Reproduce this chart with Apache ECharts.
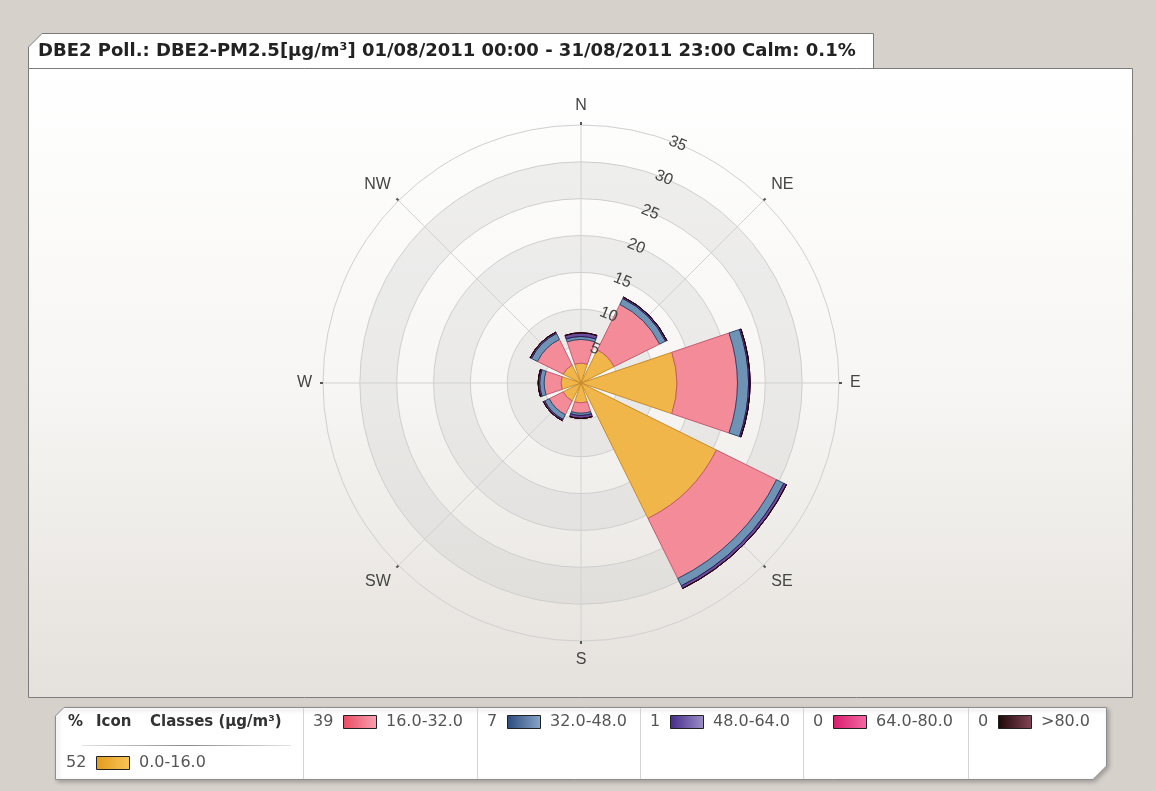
<!DOCTYPE html>
<html><head><meta charset="utf-8">
<script src="https://cdn.jsdelivr.net/npm/echarts@6/dist/echarts.min.js"></script>
<style>html,body{margin:0;padding:0;background:#d6d1cb;}#c{width:1156px;height:791px;}</style>
</head><body><div id="c"></div>
<script>
const categories = ['N','NE','E','SE','S','SW','W','NW'];
const class0 = [2.7, 5.0, 13.0, 20.5, 2.7, 2.7, 2.7, 2.7];
const class1 = [3.2, 6.9, 8.2, 9.1, 1.4, 2.1, 2.3, 3.9];
const class2 = [0.4, 0.9, 1.5, 1.1, 0.3, 0.7, 0.6, 0.9];
const class3 = [0.5, 0.2, 0.2, 0.4, 0.4, 0.2, 0.2, 0.2];
const class4 = [0, 0, 0, 0, 0, 0, 0, 0];
const class5 = [0, 0, 0, 0, 0, 0, 0, 0];
const classNames = ['0.0-16.0','16.0-32.0','32.0-48.0','48.0-64.0','64.0-80.0','>80.0'];
const classPct = [52, 39, 7, 1, 0, 0];
const radiusMax = 35, radiusStep = 5;
const titleText = 'DBE2 Poll.: DBE2-PM2.5[µg/m³] 01/08/2011 00:00 - 31/08/2011 23:00 Calm: 0.1%';
const headerTexts = ['%', 'Icon', 'Classes (µg/m³)'];

const classData = [class0, class1, class2, class3, class4, class5];
const fills = ['#f1b64a','#f48b99','#6f93b4','#6a4c9c','#e8408c','#3c1c24'];
const borders = ['#c98c2c','#c45c6e','#2c4a70','#2c1a52','#a01050','#1a0808'];
const iconGrad = [['#e39c1c','#f8c45a'],['#e84a62','#f7a2b0'],['#2a4a7e','#8aa6c8'],['#452a8c','#9c90c8'],['#d81c6c','#f36aa4'],['#1c0606','#864656']];

const CX = 581, CY = 383, R = 258;
const FONT = 'Liberation Sans';
const LFONT = 'DejaVu Sans';

const chart = echarts.init(document.getElementById('c'), null, {renderer:'canvas'});

const graphics = [];
// title tab
graphics.push({type:'polygon', z:-100, shape:{points:[[28.5,69],[28.5,47],[42,33.5],[873.5,33.5],[873.5,69]]},
  style:{fill:'#ffffff', stroke:'#7a7a7a', lineWidth:1}});
graphics.push({type:'text', z:10, x:38, y:51, style:{text:titleText, font:'bold 18px '+LFONT, fill:'#222', verticalAlign:'middle'}});
// main panel
graphics.push({type:'rect', z:-100, shape:{x:28.5,y:68.5,width:1104,height:629},
  style:{fill:new echarts.graphic.LinearGradient(0,0,0,1,[{offset:0,color:'#ffffff'},{offset:0.5,color:'#f7f6f4'},{offset:1,color:'#e5e1dc'}]),
  stroke:'#7c7c7c', lineWidth:1}});
// legend box
graphics.push({type:'polygon', z:-100, shape:{points:[[55.5,716],[64,707.5],[1106.5,707.5],[1106.5,766],[1093,779.5],[55.5,779.5]]},
  style:{fill:'#ffffff', stroke:'#8e8e8e', lineWidth:1, shadowBlur:4, shadowColor:'rgba(0,0,0,0.25)', shadowOffsetX:2, shadowOffsetY:2}});
const colX = [303, 477, 640, 803, 968];
colX.forEach(x => graphics.push({type:'line', z:-90, shape:{x1:x+0.5,y1:708,x2:x+0.5,y2:779}, style:{stroke:'#d4d4d4', lineWidth:1}}));
// header
const headerX = [68, 96, 150];
headerTexts.forEach((t, k) => graphics.push({type:'text', z:10, x:headerX[k], y:722,
  style:{text:t, font:'bold 15px '+LFONT, fill:'#333', verticalAlign:'middle'}}));
graphics.push({type:'line', z:-90, shape:{x1:82,y1:745.5,x2:291,y2:745.5},
  style:{stroke:new echarts.graphic.LinearGradient(0,0,1,0,[{offset:0,color:'#e6e6e6'},{offset:0.5,color:'#8a8a8a'},{offset:1,color:'#e6e6e6'}]), lineWidth:1}});
function legendEntry(i, x, y){
  const pct = String(classPct[i]);
  const iconX = x + pct.length*10 + 10;
  graphics.push({type:'text', z:10, x:x, y:y, style:{text:pct, font:'16px '+LFONT, fill:'#555', verticalAlign:'middle'}});
  graphics.push({type:'rect', z:10, shape:{x:iconX+0.5, y:y-6.5, width:33, height:13},
    style:{fill:new echarts.graphic.LinearGradient(0,0,1,0,[{offset:0,color:iconGrad[i][0]},{offset:1,color:iconGrad[i][1]}]), stroke:'#222', lineWidth:1}});
  graphics.push({type:'text', z:10, x:iconX+43, y:y, style:{text:classNames[i], font:'16px '+LFONT, fill:'#555', verticalAlign:'middle'}});
}
legendEntry(0, 66, 763);
for (let i = 1; i < 6; i++) legendEntry(i, colX[i-1]+10, 722);

const series = classData.map((d, i) => ({
  type:'bar', coordinateSystem:'polar', polarIndex:0, stack:'rose', name:classNames[i],
  data:d, barCategoryGap:'17%', z:3,
  itemStyle:{color:fills[i], borderColor:borders[i], borderWidth:1},
  emphasis:{disabled:true}
}));

const option = {
  animation:false,
  graphic:graphics,
  polar:[
    {center:[CX,CY], radius:R},
    {center:[CX,CY], radius:R},
    {center:[CX,CY], radius:R}
  ],
  angleAxis:[
    {polarIndex:0, type:'category', data:categories, startAngle:112.5, clockwise:true, boundaryGap:true,
     axisLine:{show:false}, splitLine:{show:false},
     axisTick:{show:true, alignWithLabel:true, length:3, inside:false, lineStyle:{color:'#555', width:2}},
     axisLabel:{margin:11, fontSize:16, fontFamily:FONT, color:'#444'}},
    {polarIndex:1, type:'value', min:0, max:360, startAngle:68, clockwise:true, show:false},
    {polarIndex:2, type:'value', min:0, max:360, interval:45, startAngle:90, clockwise:true,
     axisLine:{show:false}, axisTick:{show:false}, axisLabel:{show:false},
     splitLine:{show:true, lineStyle:{color:'#d2d2d2', width:1}}}
  ],
  radiusAxis:[
    {polarIndex:0, type:'value', min:0, max:radiusMax, interval:radiusStep,
     axisLine:{show:false}, axisTick:{show:false}, axisLabel:{show:false},
     splitLine:{show:true, lineStyle:{color:'#d0d0d0', width:1}},
     splitArea:{show:true, areaStyle:{color:['rgba(0,0,0,0)','rgba(200,200,200,0.28)']}}},
    {polarIndex:1, type:'value', min:0, max:radiusMax, interval:radiusStep, z:20,
     axisLine:{show:false}, axisTick:{show:false}, splitLine:{show:false},
     axisLabel:{show:true, margin:0, rotate:-22, align:'center', verticalAlign:'middle',
       fontSize:16, fontFamily:FONT, color:'#444',
       formatter:v => v === 0 ? '' : String(v)}},
    {polarIndex:2, type:'value', min:0, max:radiusMax, show:false}
  ],
  series:series
};
chart.setOption(option);
</script></body></html>
